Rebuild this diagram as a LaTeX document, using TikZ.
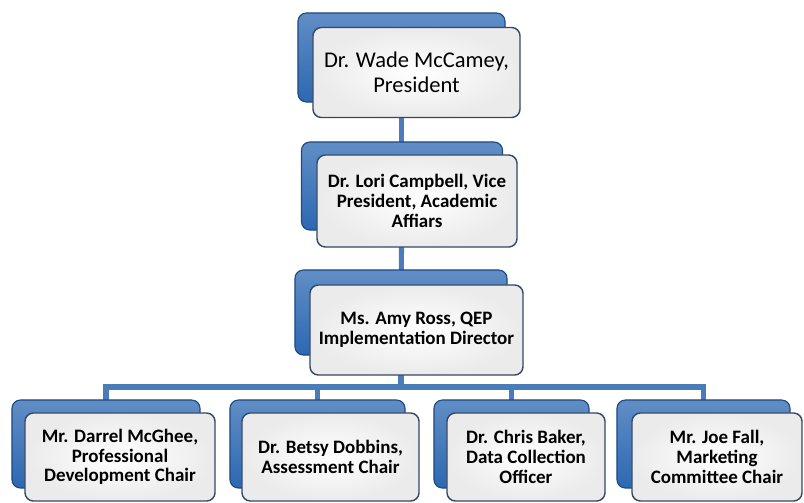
\documentclass[tikz,border=0pt]{standalone}
\usepackage{fontspec}
\setmainfont{Carlito}
\usetikzlibrary{backgrounds}
\definecolor{boxblue}{RGB}{44,104,178}
\definecolor{boxedge}{RGB}{30,74,130}
\definecolor{linkblue}{RGB}{74,124,186}
\definecolor{frameedge}{RGB}{52,72,102}

\begin{document}
\begin{tikzpicture}[x=0.025cm,y=-0.025cm,
    back/.style = {draw=boxedge, line width=0.8pt, top color=boxblue!75!white, bottom color=boxblue, rounded corners=6pt, inner sep=0pt},
    front/.style = {draw=frameedge, line width=1pt, inner color=white, outer color=gray!16, rounded corners=6pt, inner sep=2pt, align=center, font=\bfseries\fontsize{13.5}{14}\selectfont},
    link/.style = {draw=linkblue, line width=3.6pt}]
    \useasboundingbox (0,0) rectangle (804,502);
    % president
    \node[back, minimum width=5.175cm, minimum height=2.225cm] (1b) at (401.5,57.5) {};
    \node[front, minimum width=5.175cm, minimum height=2.25cm, font=\fontsize{16}{18}\selectfont] (1) at (416.5,72.5) {Dr. Wade McCamey,\\ President};
    % vice president
    \node[back, minimum width=5.025cm, minimum height=2.2cm] (2b) at (402,186) {};
    \node[front, minimum width=5cm, minimum height=2.3cm] (2) at (417,201) {Dr. Lori Campbell, Vice\\ President, Academic\\ Affiars};
    % director
    \node[back, minimum width=5.3cm, minimum height=2.125cm] (3b) at (401,312.5) {};
    \node[front, minimum width=5.325cm, minimum height=2.25cm] (3) at (416.5,330) {Ms. Amy Ross, QEP\\ Implementation Director};
    % chairs
    \node[back, minimum width=4.7cm, minimum height=2.2cm] (4b) at (106,444) {};
    \node[front, minimum width=4.75cm, minimum height=2.2cm] (4) at (120,457) {Mr. Darrel McGhee,\\ Professional\\ Development Chair};
    \node[back, minimum width=4.375cm, minimum height=2.2cm] (5b) at (317.5,444) {};
    \node[front, minimum width=4.425cm, minimum height=2.2cm] (5) at (330.5,457) {Dr. Betsy Dobbins,\\ Assessment Chair};
    \node[back, minimum width=3.875cm, minimum height=2.2cm] (6b) at (511.5,444) {};
    \node[front, minimum width=3.95cm, minimum height=2.2cm] (6) at (526,457) {Dr. Chris Baker,\\ Data Collection\\ Officer};
    \node[back, minimum width=4.325cm, minimum height=2.2cm] (7b) at (703.5,444) {};
    \node[front, minimum width=4.25cm, minimum height=2.2cm] (7) at (717,457) {Mr. Joe Fall,\\ Marketing\\ Committee Chair};
    \coordinate (bus) at (0,387);
    \begin{scope}[on background layer]
        \draw[link] (1b.center) -- (1b.center |- 2b.center) -- (2b.center);
        \draw[link] (2b.center) -- (3b.center);
        \foreach \n in {4b,5b,6b,7b}
            \draw[link] (3b.center) -- (3b.center |- bus) -| (\n.center);
    \end{scope}
\end{tikzpicture}
\end{document}
